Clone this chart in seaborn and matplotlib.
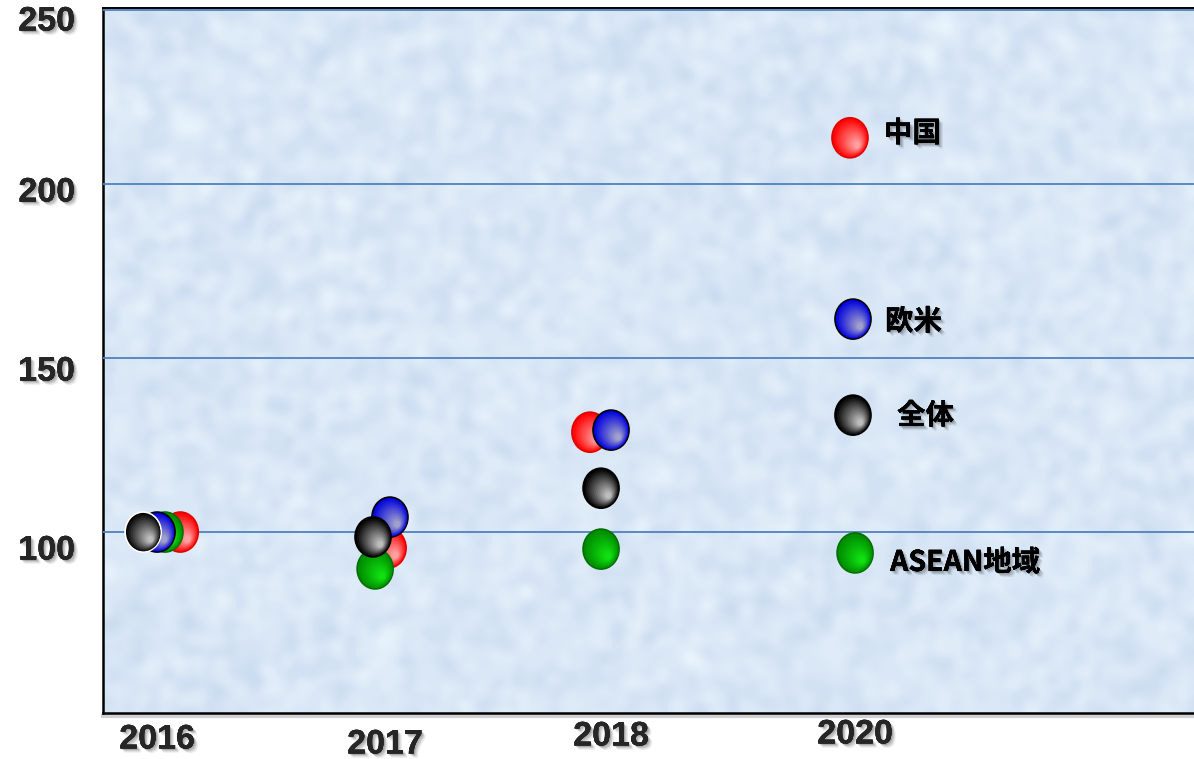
import numpy as np
import pandas as pd
import seaborn as sns
import matplotlib
matplotlib.use("Agg")
import matplotlib.pyplot as plt
import matplotlib.patheffects as pe
from matplotlib.path import Path
from matplotlib.transforms import offset_copy, blended_transform_factory, ScaledTranslation
import matplotlib.colors as mcolors

# ---- data -------------------------------------------------------------
years = ["2016", "2017", "2018", "2020"]
series_names = ["中国", "ASEAN地域", "欧米", "全体"]

china = [100.0, 95.4, 128.7, 213.3]
asean = [100.0, 89.4, 95.1, 94.0]
west = [100.0, 104.3, 129.3, 161.2]
total = [100.0, 98.6, 112.6, 133.6]

y_ticks = [100, 150, 200, 250]

# ---- styling ----------------------------------------------------------
# small horizontal dodge per point so overlapping circles stay visible
dodge = {
    "中国": [0.10, -0.004, -0.134, -0.013],
    "ASEAN地域": [0.034, -0.06, -0.086, 0.009],
    "欧米": [0.0, 0.004, -0.043, 0.0],
    "全体": [-0.06, -0.069, -0.086, 0.0],
}
base_col = {"中国": "#ff0000", "ASEAN地域": "#008a00", "欧米": "#0000dd", "全体": "#000000"}
light_col = {"中国": "#ffa0a0", "ASEAN地域": "#10e010", "欧米": "#a0a0cc", "全体": "#bcbcbc"}
edge_col = {"中国": "#e00000", "ASEAN地域": "#007000", "欧米": "#000000", "全体": "#000000"}
label_shift_px = {"中国": (34, 4), "ASEAN地域": (35, -10), "欧米": (32, -3), "全体": (44, -1)}

sns.set_style("white")
plt.rcParams["font.family"] = ["Noto Sans CJK JP", "DejaVu Sans"]

values = {"中国": china, "ASEAN地域": asean, "欧米": west, "全体": total}
rows = []
for name in series_names:
    for i, (yr, v) in enumerate(zip(years, values[name])):
        rows.append({"series": name, "year": yr, "x": i + dodge[name][i], "value": v})
df = pd.DataFrame(rows)

W, H = 1194, 759
fig = plt.figure(figsize=(W / 100, H / 100), dpi=100)
ax = fig.add_axes([103 / W, 46 / H, 1 - 103 / W, (713 - 8) / H])

# soft mottled paper texture for the plotting area
rng = np.random.default_rng(7)
noise = rng.normal(size=(150, 240))
for _ in range(3):
    noise = (noise + np.roll(noise, 1, 0) + np.roll(noise, -1, 0)
             + np.roll(noise, 1, 1) + np.roll(noise, -1, 1)) / 5
noise = noise / noise.std()
paper = np.array(mcolors.to_rgb("#d9e7f6"))
tex = paper[None, None, :] + 0.018 * noise[:, :, None] * np.array([1.0, 0.8, 0.4])
ax.imshow(np.clip(tex, 0, 1), extent=(0, 1, 0, 1), transform=ax.transAxes,
          aspect="auto", interpolation="bicubic", zorder=0)

ax.set_xlim(-0.233, 4.47)
ax.set_ylim(48.0, 250.6)
ax.set_yticks(y_ticks)
ax.set_xticks(range(len(years)))
ax.tick_params(length=0, labelbottom=False, labelleft=False)
ax.grid(axis="y", color="#4f81bd", linewidth=1.3, zorder=1)
ax.grid(axis="x", visible=False)
ax.set_axisbelow(False)
for gl in ax.get_ygridlines():
    gl.set_zorder(1)

for side in ["left", "bottom", "top"]:
    ax.spines[side].set_color("black")
ax.spines["left"].set_linewidth(1.8)
ax.spines["top"].set_linewidth(1.4)
ax.spines["bottom"].set_linewidth(1.8)
ax.spines["right"].set_visible(False)
ax.spines["bottom"].set_path_effects(
    [pe.SimpleLineShadow(offset=(0, -2.5), shadow_color="k", alpha=0.18, linewidth=3), pe.Normal()]
)

# ellipse marker, slightly taller than wide
circ = Path.unit_circle()
ell = Path(circ.vertices * np.array([0.9, 1.0]), circ.codes)
size = 829
radius_pt = np.sqrt(size) / 2

z = 3
for name in series_names:
    sub = df[df["series"] == name]
    ec = [edge_col[name]] * len(sub)
    if name == "全体":
        ec[0] = "white"
    sns.scatterplot(data=sub, x="x", y="value", color=base_col[name], marker=ell,
                    s=size, edgecolor=ec, linewidth=1.2, ax=ax, legend=False, zorder=z)
    # shaded highlight toward the lower right of each circle
    c0 = np.array(mcolors.to_rgb(base_col[name]))
    c1 = np.array(mcolors.to_rgb(light_col[name]))
    n = 12
    for k in range(1, n + 1):
        f = 1 - 0.07 * k
        d = (1 - f) * radius_pt * 0.6 / np.sqrt(2)
        t = k / n
        col = c0 * (1 - t) + c1 * t
        tr = offset_copy(ax.transData, fig=fig, x=d, y=-d, units="points")
        ax.scatter(sub["x"], sub["value"], s=size * f * f, marker=ell, color=col,
                   edgecolors="none", transform=tr, zorder=z + 0.01 * k)
    z += 1

# soft drop shadow behind the bold labels
shadow = [
    pe.withSimplePatchShadow(offset=(3, -3), shadow_rgbFace="k", alpha=0.08),
    pe.withSimplePatchShadow(offset=(2, -2), shadow_rgbFace="k", alpha=0.14),
    pe.withSimplePatchShadow(offset=(1, -1), shadow_rgbFace="k", alpha=0.18),
    pe.Normal(),
]

# series labels beside the 2020 points
for name in series_names:
    sub = df[df["series"] == name].iloc[-1]
    dx, dy = label_shift_px[name]
    ax.annotate(name, xy=(sub["x"], sub["value"]), xytext=(dx * 0.72, dy * 0.72),
                textcoords="offset points", ha="left", va="center", fontsize=20.5,
                fontweight="bold", color="black", path_effects=shadow, zorder=10,
                family=["Noto Sans CJK JP", "DejaVu Sans"])

# axis labels
xlab_shift = [(0, -27), (-4, -32), (-10, -24), (2, -22)]
tx = blended_transform_factory(ax.transData, ax.transAxes)
for i, yr in enumerate(years):
    dx, dy = xlab_shift[i]
    ax.text(i, 0, yr, transform=tx + ScaledTranslation(dx / 100, dy / 100, fig.dpi_scale_trans),
            ha="center", va="center", fontsize=24.5, fontweight="bold",
            family=["Liberation Sans", "DejaVu Sans"], path_effects=shadow, clip_on=False)

ylab_shift = [-19, -14, -9, -12]
ty = blended_transform_factory(ax.transAxes, ax.transData)
for v, dy in zip(y_ticks, ylab_shift):
    ax.text(0, v, str(v), transform=ty + ScaledTranslation(-28 / 100, dy / 100, fig.dpi_scale_trans),
            ha="right", va="center", fontsize=24.5, fontweight="bold",
            family=["Liberation Sans", "DejaVu Sans"], path_effects=shadow, clip_on=False)

ax.set_xlabel("")
ax.set_ylabel("")
fig.savefig("out.png", dpi=100)
